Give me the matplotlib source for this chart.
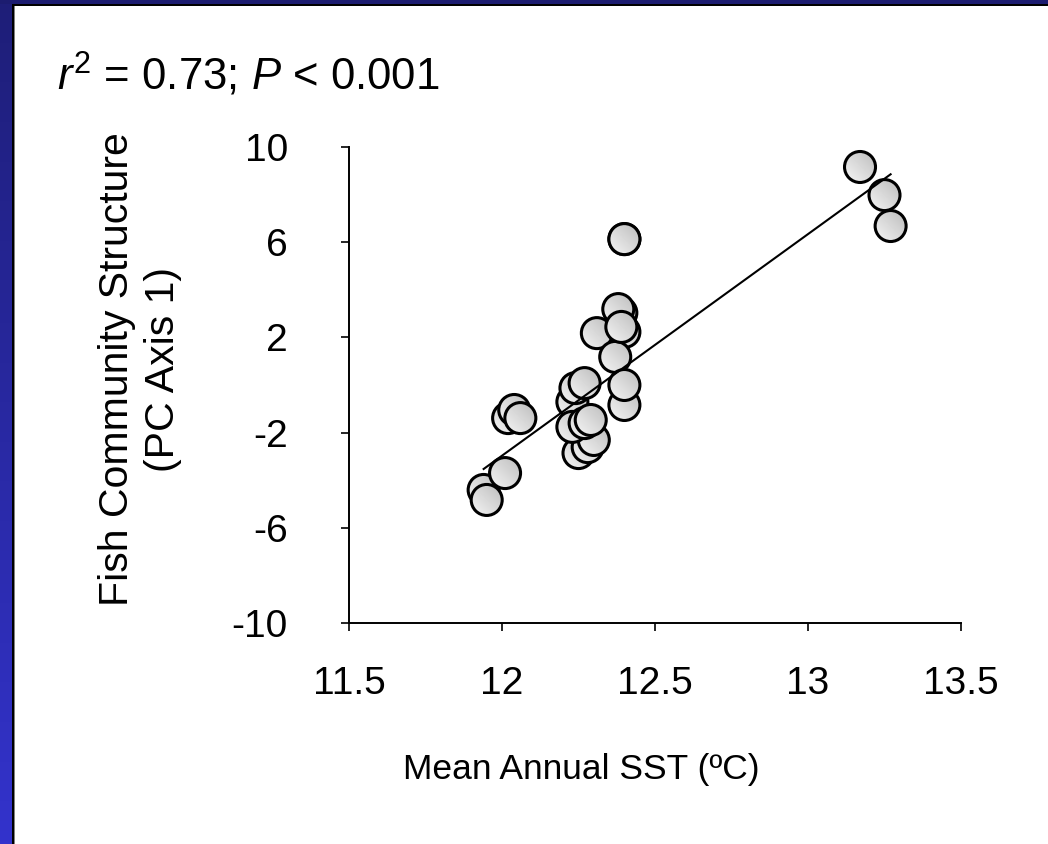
import numpy as np
import matplotlib
matplotlib.use("Agg")
import matplotlib.pyplot as plt
from matplotlib.patches import Circle, Rectangle
from matplotlib.transforms import IdentityTransform
from matplotlib.colors import LinearSegmentedColormap

plt.rcParams["font.family"] = ["Liberation Sans", "DejaVu Sans"]
plt.rcParams["mathtext.fontset"] = "custom"
plt.rcParams["mathtext.rm"] = "Liberation Sans"
plt.rcParams["mathtext.it"] = "Liberation Sans:italic"

# points, back to front
sst = [12.23, 12.24, 12.27, 12.25, 12.28, 12.30, 12.23, 12.27, 12.29,
       12.02, 12.04, 12.06, 11.94, 11.95, 12.01,
       12.39, 12.40, 12.38, 12.31, 12.37, 12.40, 12.40, 12.40, 12.39,
       13.17, 13.25, 13.27, 12.40]
pc1 = [-0.71, -0.13, 0.08, -2.86, -2.61, -2.31, -1.76, -1.60, -1.47,
       -1.39, -1.05, -1.39, -4.41, -4.83, -3.70,
       3.03, 2.23, 3.19, 2.18, 1.18, -0.84, 0.0, 6.13, 2.44,
       9.16, 7.98, 6.68, 6.13]
fit_slope = 9.31
fit_intercept = -114.69

xticks = [11.5, 12, 12.5, 13, 13.5]
xticklabels = ["11.5", "12", "12.5", "13", "13.5"]
yticks = [-10, -6, -2, 2, 6, 10]
yticklabels = ["-10", "-6", "-2", "2", "6", "10"]

W, H, DPI = 1048, 844, 100
fig = plt.figure(figsize=(W / DPI, H / DPI), dpi=DPI)
fig.patch.set_facecolor("white")

# slide frame
bg = fig.add_axes([0, 0, 1, 1], zorder=-10)
bg.axis("off")
blues = LinearSegmentedColormap.from_list("bl", ["#1e1e78", "#3333cc"])
bg.imshow(np.linspace(0, 1, 256).reshape(-1, 1), cmap=blues, extent=(0, 12, H, 0), aspect="auto")
bg.add_patch(Rectangle((0, 0), W, 4, color="#1c1c70", lw=0))
bg.add_patch(Rectangle((12, 4), 2, H, color="black", lw=0))
bg.add_patch(Rectangle((12, 4), W, 2, color="black", lw=0))
bg.add_patch(Rectangle((14, 6), 1, H, color="#808080", lw=0))
bg.set_xlim(0, W)
bg.set_ylim(H, 0)

ax = fig.add_axes([349 / W, 221 / H, 612 / W, 476 / H])
ax.set_xlim(11.5, 13.5)
ax.set_ylim(-10, 10)
ax.set_autoscale_on(False)
ax.patch.set_alpha(0)
for s in ["top", "right"]:
    ax.spines[s].set_visible(False)
for s in ["left", "bottom"]:
    ax.spines[s].set_linewidth(1.4)
ax.set_xticks(xticks)
ax.set_xticklabels(xticklabels)
ax.set_yticks(yticks)
ax.set_yticklabels(yticklabels)
ax.tick_params(axis="both", direction="out", length=6, width=1.2, labelsize=28)
ax.tick_params(axis="y", pad=38)
ax.tick_params(axis="x", pad=25)

# gradient-filled markers
shade = LinearSegmentedColormap.from_list("sh", ["#fafafa", "#b8b8b8"])
gx, gy = np.meshgrid(np.linspace(0, 1, 64), np.linspace(0, 1, 64))
grad = (gx + gy) / 2
r = 15.5
for i, (x, y) in enumerate(zip(sst, pc1)):
    cx, cy = ax.transData.transform((x, y))
    (x0, y0) = ax.transData.inverted().transform((cx - r - 2, cy - r - 2))
    (x1, y1) = ax.transData.inverted().transform((cx + r + 2, cy + r + 2))
    clip = Circle((cx, cy), r, transform=IdentityTransform())
    im = ax.imshow(grad, cmap=shade, origin="lower", extent=(x0, x1, y0, y1),
                   aspect="auto", zorder=3 + 2 * i, interpolation="bilinear")
    im.set_clip_path(clip)
    ax.add_patch(Circle((cx, cy), r, transform=IdentityTransform(), fill=False,
                        edgecolor="black", lw=2.2, zorder=4 + 2 * i, clip_on=False))

xs = np.array([min(sst), max(sst)])
ax.plot(xs, fit_slope * xs + fit_intercept, color="black", lw=1.5, zorder=200)

fig.text(581 / W, 1 - 770 / H, "Mean Annual SST (ºC)", fontsize=25.5, ha="center", va="center")
fig.text(140 / W, 1 - 369 / H, "Fish Community Structure\n(PC Axis 1)", fontsize=29.5,
         rotation=90, ha="center", va="center", multialignment="center", linespacing=1.3)
fig.text(57 / W, 1 - 75 / H, r"$\mathit{r}^{2}$ = 0.73; $\mathit{P}$ < 0.001", fontsize=31.5,
         ha="left", va="center")

fig.savefig("out.png", dpi=DPI)
